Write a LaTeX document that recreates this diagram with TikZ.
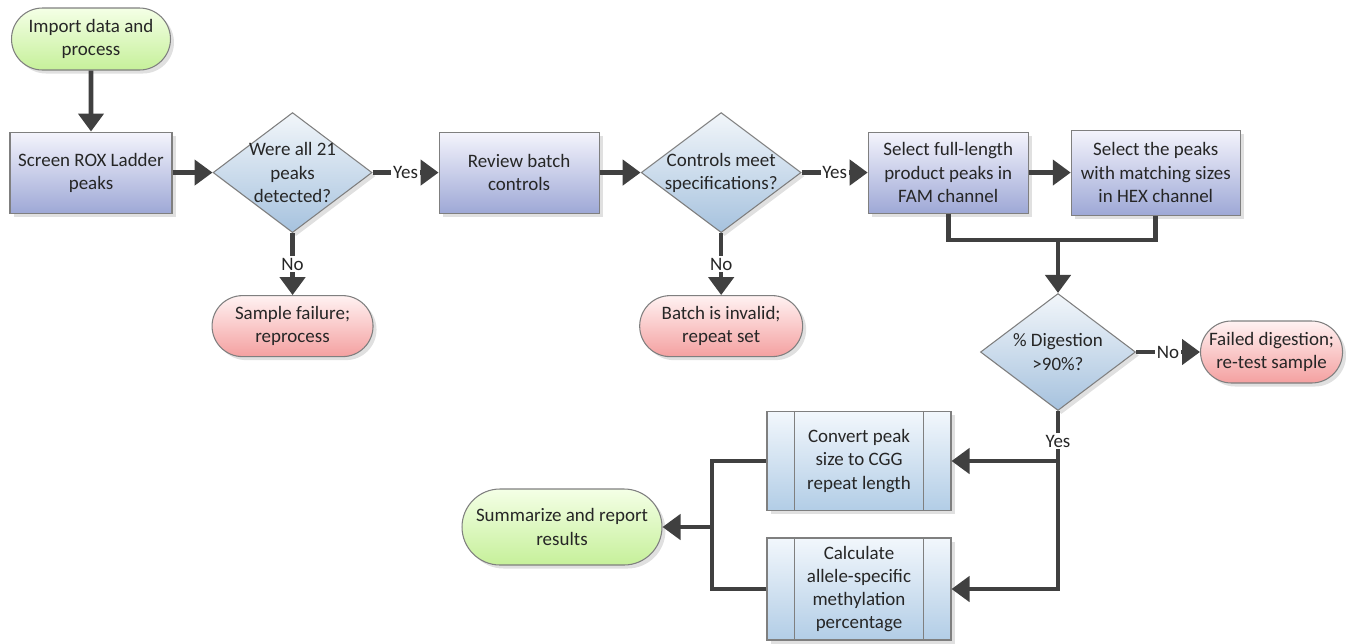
\documentclass[tikz,border=0pt]{standalone}
\usepackage{fontspec}
\setmainfont{Carlito}
\usepackage{tikz}
\usetikzlibrary{shapes, arrows, arrows.meta, positioning, calc, shadows}

\definecolor{linegray}{HTML}{404040}
\definecolor{edgegray}{HTML}{7F7F7F}
\definecolor{txtgray}{HTML}{262626}
\definecolor{greentop}{HTML}{F4FFE6}
\definecolor{greenbot}{HTML}{C6F09A}
\definecolor{bluetop}{HTML}{F4F4FC}
\definecolor{bluebot}{HTML}{9EA8D6}
\definecolor{dectop}{HTML}{F2F6FA}
\definecolor{decbot}{HTML}{A6C2DE}
\definecolor{redtop}{HTML}{FFF2F2}
\definecolor{redbot}{HTML}{F4A0A0}
\definecolor{predtop}{HTML}{F2F7FC}
\definecolor{predbot}{HTML}{B2CDE6}

\tikzset{
  every node/.style={font=\fontsize{10.8}{13.2}\selectfont, text=txtgray},
  shade/.style={drop shadow={shadow xshift=0.07cm, shadow yshift=-0.07cm, fill=black!12, opacity=1}},
  terminal/.style={rounded rectangle, draw=edgegray, line width=0.6pt, shade, align=center, inner sep=2pt},
  startstop/.style={terminal, top color=greentop, bottom color=greenbot},
  failstop/.style={terminal, top color=redtop, bottom color=redbot},
  process/.style={rectangle, draw=edgegray, line width=0.6pt, shade, align=center,
    top color=bluetop, bottom color=bluebot, minimum height=1.62cm, inner sep=2pt},
  predef/.style={rectangle, draw=edgegray, line width=0.6pt, shade, align=center,
    top color=predtop, bottom color=predbot, minimum width=3.68cm, inner sep=2pt},
  decision/.style={diamond, draw=edgegray, line width=0.6pt, shade,
    top color=dectop, bottom color=decbot, inner sep=0pt},
  line/.style={draw=linegray, line width=2.6pt},
  arr/.style={line, -{Triangle[length=0.36cm, width=0.5cm]}},
  answer/.style={fill=white, inner sep=1pt}
}

\begin{document}
\begin{tikzpicture}[node distance=1.22cm and 0.8cm]
  \useasboundingbox (0,0) rectangle (26.92,-12.86);

  % top row
  \node[startstop, minimum width=3.32cm, minimum height=1.24cm] (import) at (1.82,-0.78) {Import data and\\process};
  \node[process, minimum width=3.24cm, below=of import] (screen) {Screen ROX Ladder\\peaks};
  \node[decision, minimum width=3.18cm, minimum height=2.4cm, right=of screen,
    label={[align=center]center:Were all 21\\peaks\\detected?}] (allpeaks) {};
  \node[failstop, minimum width=3.36cm, minimum height=1.22cm, below=1.24cm of allpeaks] (samplefail) {Sample failure;\\reprocess};
  \node[process, minimum width=3.2cm, right=1.32cm of allpeaks] (review) {Review batch\\controls};
  \node[decision, minimum width=3.2cm, minimum height=2.4cm, right=0.82cm of review,
    label={[align=center]center:Controls meet\\specifications?}] (controls) {};
  \node[failstop, minimum width=3.4cm, minimum height=1.22cm, below=1.24cm of controls] (invalid) {Batch is invalid;\\repeat set};
  \node[process, minimum width=3.2cm, right=1.32cm of controls] (famsel) {Select full-length\\product peaks in\\FAM channel};
  \node[process, minimum width=3.38cm, minimum height=1.7cm, right=0.84cm of famsel] (hexsel) {Select the peaks\\with matching sizes\\in HEX channel};

  % digestion check
  \node[decision, minimum width=3.1cm, minimum height=2.34cm, label={[align=center]center:\% Digestion\\>90\%?}] (digest) at (21.16,-7.04) {};
  \node[failstop, minimum width=2.84cm, minimum height=1.24cm, inner xsep=0pt, right=1.28cm of digest] (retest) {Failed digestion;\\re-test sample};

  % bottom part
  \node[predef, minimum height=1.98cm] (convert) at (17.18,-9.22) {Convert peak\\size to CGG\\repeat length};
  \node[predef, minimum height=2.04cm] (calcmeth) at (17.18,-11.78) {Calculate\\allele-specific\\methylation\\percentage};
  \node[startstop, minimum width=4.14cm, minimum height=1.52cm] (summary) at (11.24,-10.54) {Summarize and report\\results};
  \foreach \n in {convert,calcmeth}{
    \draw[edgegray, line width=0.6pt] ([xshift=0.56cm]\n.north west) -- ([xshift=0.56cm]\n.south west);
    \draw[edgegray, line width=0.6pt] ([xshift=-0.56cm]\n.north east) -- ([xshift=-0.56cm]\n.south east);
  }

  \coordinate (join) at (21.16,-4.8);
  \coordinate (split) at (14.24,-10.54);

  % connectors
  \foreach \from/\to in {import/screen,screen/allpeaks,review/controls,famsel/hexsel}
    \draw[arr] (\from) -- (\to);
  \draw[arr] (allpeaks.east) -- node[answer]{Yes} (review.west);
  \draw[arr] (controls.east) -- node[answer]{Yes} (famsel.west);
  \draw[arr] (allpeaks.south) -- node[answer]{No} (samplefail.north);
  \draw[arr] (controls.south) -- node[answer]{No} (invalid.north);
  \draw[line] (famsel.south) |- (join);
  \draw[line] (hexsel.south) |- (join);
  \draw[arr] (join) -- (digest.north);
  \draw[arr] (digest.east) -- node[answer]{No} (retest.west);
  \draw[arr] (digest.south) |- (calcmeth.east);
  \draw[arr] (digest.south) |- node[answer, pos=0.3]{Yes} (convert.east);
  \draw[line] (convert.west) -| (split);
  \draw[line] (calcmeth.west) -| (split);
  \draw[arr] (split) -- (summary.east);
\end{tikzpicture}
\end{document}
